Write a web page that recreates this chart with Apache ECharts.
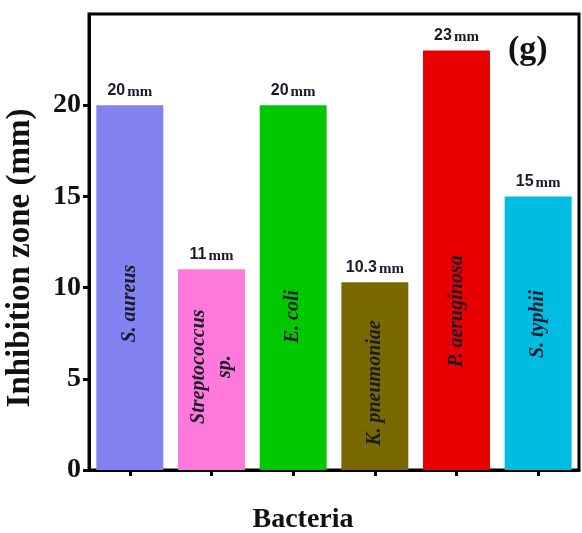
<!DOCTYPE html>
<html><head><meta charset="utf-8">
<script src="https://cdn.jsdelivr.net/npm/echarts@6/dist/echarts.min.js"></script>
<style>html,body{margin:0;padding:0;background:#fff}#c{width:582px;height:533px}</style>
</head><body><div id="c"></div>
<script>
var categories = ['S. aureus', 'Streptococcus\nsp.', 'E. coli', 'K. pneumoniae', 'P. aeruginosa', 'S. typhii'];
var values = [20, 11, 20, 10.3, 23, 15];
var valueTexts = ['20', '11', '20', '10.3', '23', '15'];
var yTicks = [0, 5, 10, 15, 20];
var barColors = ['#8282F0', '#FF78DC', '#00C800', '#7A6900', '#E80000', '#00BCE0'];
var labelNudge = [16, -3, 29, 7, 51, -9];

var chart = echarts.init(document.getElementById('c'));
var serif = '"Liberation Serif","Times New Roman",serif';
var sans = '"Liberation Sans",Arial,sans-serif';
chart.setOption({
  animation: false,
  grid: {left: 89, right: 3, top: 14, bottom: 63, show: true, borderColor: '#000', borderWidth: 3,
    outerBoundsMode: 'none', containLabel: false},
  xAxis: {
    type: 'category', data: categories,
    name: 'Bacteria', nameLocation: 'middle', nameGap: 36,
    nameTextStyle: {fontFamily: serif, fontWeight: 'bold', fontSize: 28, color: '#111', padding: [0, 62, 0, 0]},
    axisLine: {lineStyle: {color: '#000', width: 3}},
    axisTick: {show: true, alignWithLabel: true, interval: 0, length: 6, lineStyle: {color: '#000', width: 3}},
    axisLabel: {show: false, interval: 0}
  },
  yAxis: {
    type: 'value', min: 0, max: 25, interval: 5,
    name: 'Inhibition zone (mm)', nameLocation: 'middle', nameGap: 52,
    nameTextStyle: {fontFamily: serif, fontWeight: 'bold', fontSize: 33, color: '#111', padding: [0, 32, 0, 0]},
    axisLine: {show: true, lineStyle: {color: '#000', width: 3}},
    axisTick: {show: true, length: 6, lineStyle: {color: '#000', width: 3}},
    axisLabel: {fontFamily: serif, fontWeight: 'bold', fontSize: 28, color: '#111', margin: 8, showMaxLabel: false},
    splitLine: {show: false}
  },
  series: [{
    type: 'bar', barCategoryGap: '18%',
    data: values.map(function (v, i) {
      return {value: v, itemStyle: {color: barColors[i]},
        label: {offset: [-labelNudge[i], 0]}};
    }),
    label: {
      show: true, position: 'inside', rotate: 90,
      formatter: function (p) { return categories[p.dataIndex]; },
      fontFamily: serif, fontStyle: 'italic', fontWeight: 'bold', fontSize: 20, color: '#1a1a2a', lineHeight: 26
    }
  }, {
    type: 'bar', barCategoryGap: '18%', barGap: '-100%', silent: true,
    data: values,
    itemStyle: {color: 'transparent'},
    label: {
      show: true, position: 'top', distance: 6,
      formatter: function (p) { return '{v|' + valueTexts[p.dataIndex] + '}{u|mm}'; },
      rich: {
        v: {fontFamily: sans, fontWeight: 'bold', fontSize: 16, color: '#1a1a2a'},
        u: {fontFamily: serif, fontWeight: 'bold', fontSize: 15, color: '#1a1a2a', padding: [2, 0, 0, 2]}
      }
    }
  }],
  graphic: [{
    type: 'text', left: 508, top: 33,
    style: {text: '(g)', fontFamily: serif, fontWeight: 'bold', fontSize: 34, fill: '#111'}
  }]
});
</script></body></html>
